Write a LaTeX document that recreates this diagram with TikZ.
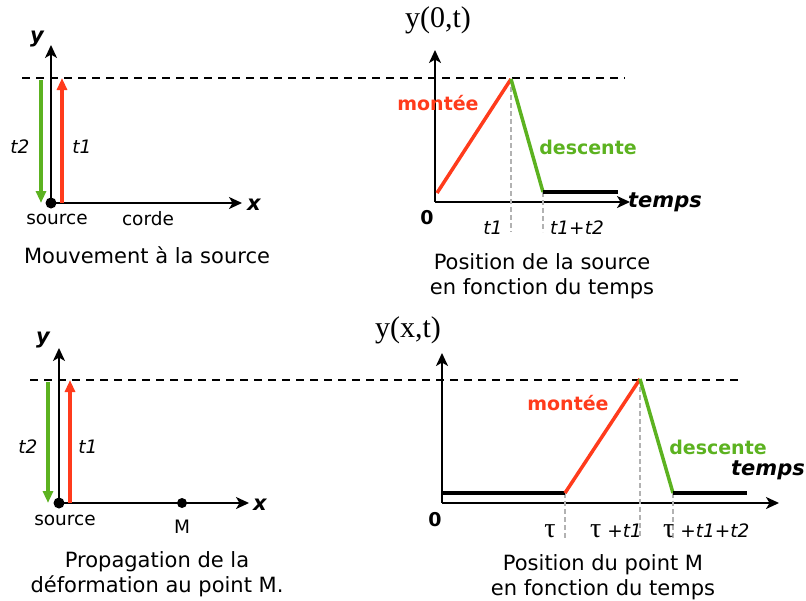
\documentclass[tikz,border=0pt]{standalone}
\usepackage{fontspec}
\setmainfont{DejaVu Sans}
\newfontfamily\serifax{Liberation Serif}
\usetikzlibrary{arrows.meta}
\definecolor{montee}{RGB}{255,59,28}
\definecolor{descente}{RGB}{92,178,32}
\newcommand{\lettau}{{\fontsize{28}{28}\selectfont\serifax\upshape τ}}
\tikzset{
  axe/.style={-{Stealth[length=13pt,width=12pt,inset=3.5pt]}, line width=2pt},
  fleche/.style={-{Triangle[length=12pt,width=10pt]}, line width=3.5pt},
  niveau/.style={dashed, dash pattern=on 8pt off 6pt, line width=1.3pt},
  repere/.style={dash pattern=on 5pt off 3pt, line width=1.2pt, black!30},
  courbe/.style={line width=3.5pt},
  lbl/.style={font=\fontsize{18.5}{20}\selectfont},
  lblit/.style={font=\fontsize{18.5}{20}\selectfont\itshape},
  lblbf/.style={font=\fontsize{19}{21}\selectfont\bfseries},
  axlbl/.style={font=\fontsize{21}{23}\selectfont\bfseries\itshape},
  legende/.style={font=\fontsize{21}{25}\selectfont, align=center},
  fonction/.style={font=\fontsize{30}{32}\selectfont\serifax}
}
\begin{document}
\begin{tikzpicture}[x=1pt, y=-1pt, every node/.style={inner sep=0pt}]
\useasboundingbox (0,0) rectangle (806,600);

% 1. niveaux maximaux (pointilles)
\coordinate (haut1a) at (22,78);
\coordinate (haut1b) at (625,78);
\coordinate (haut2a) at (30,380);
\coordinate (haut2b) at (740,380);
\draw[niveau] (haut1a) -- (haut1b);
\draw[niveau] (haut2a) -- (haut2b);

% 2. mouvement a la source
\coordinate (O1) at (51,203);
\coordinate (Y1) at (51,45);
\coordinate (X1) at (242,203);
\draw[axe] (O1) -- (Y1);
\draw[axe] (O1) -- (X1);
\node[axlbl] (y1) at (37,39) {y};
\node[axlbl] (x1) at (254,205) {x};
\coordinate (desc1a) at (41,80);
\coordinate (desc1b) at (41,203);
\coordinate (mont1a) at (62,203);
\coordinate (mont1b) at (62,78);
\draw[fleche, descente] (desc1a) -- (desc1b);
\draw[fleche, montee] (mont1a) -- (mont1b);
\node[lblit] (t2a) at (20,147) {t2};
\node[lblit] (t1a) at (82,147) {t1};
\fill (O1) circle (5.5);
\node[lbl] (src1) at (57,219) {source};
\node[lbl] (corde) at (148,219) {corde};
\node[legende] (leg1) at (147,255) {Mouvement à la source};

% 3. position de la source en fonction du temps
\coordinate (O2) at (435,202);
\coordinate (Y2) at (435,50);
\coordinate (X2) at (630,202);
\draw[axe] (O2) -- (Y2);
\draw[axe] (O2) -- (X2);
\node[fonction] (f1) at (438,20) {y(0,t)};
\coordinate (dep2) at (437,193);
\coordinate (pic2) at (511,79);
\coordinate (fin2) at (543,192);
\coordinate (bout2) at (618,192);
\coordinate (pied2a) at (511,232);
\coordinate (pied2b) at (543,232);
\draw[repere] (pic2) -- (pied2a);
\draw[repere] (fin2) -- (pied2b);
\draw[courbe, montee] (dep2) -- (pic2);
\draw[courbe, descente] (pic2) -- (fin2);
\draw[courbe] (fin2) -- (bout2);
\node[lblbf, text=montee] (mont2) at (438,103) {montée};
\node[lblbf, text=descente] (desc2) at (588,147) {descente};
\node[axlbl] (tps2) at (665,202) {temps};
\node[lblbf] (zero2) at (427,218) {0};
\node[lblit] (t1b) at (493,228) {t1};
\node[lblit] (t12b) at (577,228) {t1+t2};
\node[legende] (leg2) at (542,276) {Position de la source\\en fonction du temps};

% 4. propagation au point M
\coordinate (O3) at (59,503);
\coordinate (Y3) at (59,348);
\coordinate (X3) at (249,503);
\draw[axe] (O3) -- (Y3);
\draw[axe] (O3) -- (X3);
\node[axlbl] (y3) at (43,340) {y};
\node[axlbl] (x3) at (260,505) {x};
\coordinate (desc3a) at (48,382);
\coordinate (desc3b) at (48,503);
\coordinate (mont3a) at (70,503);
\coordinate (mont3b) at (70,380);
\draw[fleche, descente] (desc3a) -- (desc3b);
\draw[fleche, montee] (mont3a) -- (mont3b);
\node[lblit] (t2c) at (28,447) {t2};
\node[lblit] (t1c) at (88,447) {t1};
\fill (O3) circle (5.5);
\coordinate (M) at (182,503);
\fill (M) circle (5);
\node[lbl] (src3) at (65,520) {source};
\node[lbl] (Mlbl) at (182,527) {M};
\node[legende] (leg3) at (157,574) {Propagation de la\\déformation au point M.};

% 5. position du point M en fonction du temps
\coordinate (O4) at (442,503);
\coordinate (Y4) at (442,353);
\coordinate (X4) at (779,503);
\draw[axe] (O4) -- (Y4);
\draw[axe] (O4) -- (X4);
\node[fonction] (f2) at (408,330) {y(x,t)};
\coordinate (dep4) at (442,493);
\coordinate (tau4) at (565,493);
\coordinate (pic4) at (640,379);
\coordinate (fin4) at (673,493);
\coordinate (bout4) at (747,493);
\coordinate (pied4a) at (565,538);
\coordinate (pied4b) at (640,538);
\coordinate (pied4c) at (673,538);
\draw[repere] (tau4) -- (pied4a);
\draw[repere] (pic4) -- (pied4b);
\draw[repere] (fin4) -- (pied4c);
\draw[courbe] (dep4) -- (tau4);
\draw[courbe, montee] (tau4) -- (pic4);
\draw[courbe, descente] (pic4) -- (fin4);
\draw[courbe] (fin4) -- (bout4);
\node[lblbf, text=montee] (mont4) at (568,403) {montée};
\node[lblbf, text=descente] (desc4) at (718,447) {descente};
\node[axlbl] (tps4) at (768,470) {temps};
\node[lblbf] (zero4) at (435,520) {0};
\node[lblit] (tau) at (550,531) {\lettau};
\node[lblit, anchor=west] (taut1) at (590,531) {\lettau\ +t1};
\node[lblit, anchor=west] (taut12) at (663,531) {\lettau\ +t1+t2};
\node[legende] (leg4) at (603,577) {Position du point M\\en fonction du temps};
\end{tikzpicture}
\end{document}
